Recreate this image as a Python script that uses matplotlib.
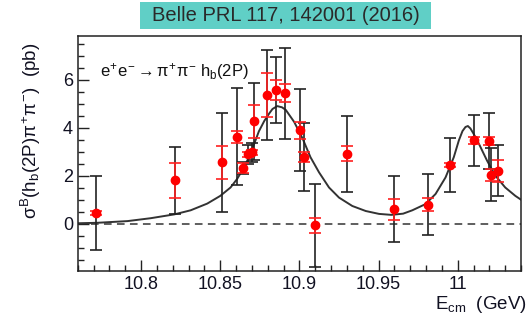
import numpy as np
import matplotlib
matplotlib.use('Agg')
import matplotlib.pyplot as plt
from matplotlib.patches import Rectangle
from matplotlib.ticker import MultipleLocator

plt.rcParams['font.family'] = ['Liberation Sans', 'DejaVu Sans']
plt.rcParams['mathtext.fontset'] = 'custom'
plt.rcParams['mathtext.rm'] = 'Liberation Sans'
plt.rcParams['mathtext.it'] = 'Liberation Sans'
plt.rcParams['mathtext.bf'] = 'Liberation Sans:bold'

e_cm = [10.7718, 10.8214, 10.8508, 10.8605, 10.8645, 10.8675, 10.8700, 10.8713,
        10.8798, 10.8855, 10.8912, 10.9003, 10.9030, 10.9100, 10.9300, 10.9600,
        10.9810, 10.9950, 11.0104, 11.0196, 11.0210, 11.0255]
sigma = [0.45, 1.81, 2.56, 3.63, 2.31, 2.89, 2.98, 4.27,
         5.37, 5.58, 5.44, 3.90, 2.77, -0.07, 2.91, 0.60,
         0.80, 2.45, 3.47, 3.45, 2.05, 2.21]
err_tot = [1.53, 1.39, 2.07, 2.02, 0.25, 0.40, 0.40, 1.60,
           1.88, 1.37, 1.90, 1.70, 1.42, 1.73, 1.58, 1.37,
           1.26, 1.12, 1.05, 1.15, 1.10, 1.07]
err_red = [0.10, 0.72, 0.69, 0.25, 0.20, 0.10, 0.10, 0.68,
           0.92, 0.41, 0.38, 0.35, 0.20, 0.32, 0.31, 0.45,
           0.28, 0.08, 0.15, 0.15, 0.25, 0.46]

# fit curve
fit_x = [10.760, 10.7725, 10.7914, 10.806, 10.821, 10.8313, 10.8418, 10.850,
         10.8565, 10.8607, 10.865, 10.869, 10.8744, 10.8778, 10.881, 10.883,
         10.886, 10.889, 10.8914, 10.8967, 10.902, 10.907, 10.9124, 10.9187,
         10.925, 10.9334, 10.9419, 10.9503, 10.958, 10.9655, 10.9713, 10.9797,
         10.986, 10.9923, 10.9975, 11.0007, 11.003, 11.0049, 11.0064, 11.008,
         11.010, 11.0133, 11.0185, 11.0238, 11.030, 11.0364, 11.040]
fit_y = [0.02, 0.04, 0.11, 0.23, 0.39, 0.56, 0.84, 1.16,
         1.51, 1.87, 2.35, 2.90, 3.85, 4.28, 4.60, 4.78,
         4.90, 4.85, 4.74, 4.24, 3.55, 2.77, 2.14, 1.51,
         1.09, 0.74, 0.53, 0.41, 0.37, 0.42, 0.56, 0.82,
         1.24, 1.93, 2.77, 3.47, 3.86, 4.03, 4.07, 3.97,
         3.75, 3.34, 2.63, 2.00, 1.51, 1.16, 1.00]

fig = plt.figure(figsize=(5.29, 3.2), dpi=100)
ax = fig.add_axes([0.147, 0.153, 0.838, 0.733])

ax.axhline(0, color='#333333', lw=1.1, ls=(0, (5, 3.5)), zorder=1)
ax.plot(fit_x, fit_y, color='#333333', lw=1.4, zorder=2)

ax.errorbar(e_cm, sigma, yerr=err_tot, fmt='none', ecolor='#222222',
            elinewidth=1.2, capsize=4, capthick=1.2, zorder=3)
ax.errorbar(e_cm, sigma, yerr=err_red, fmt='none', ecolor='#ff2020',
            elinewidth=1.2, capsize=4, capthick=1.2, zorder=4)
ax.plot(e_cm, sigma, 'o', color='#ff0000', ms=6, mec='#ff0000', zorder=5)

ax.set_xlim(10.76, 11.04)
ax.set_ylim(-1.97, 7.8)
ax.xaxis.set_major_locator(MultipleLocator(0.05))
ax.xaxis.set_minor_locator(MultipleLocator(0.01))
ax.yaxis.set_major_locator(MultipleLocator(2))
ax.yaxis.set_minor_locator(MultipleLocator(0.5))
ax.set_xticks([10.8, 10.85, 10.9, 10.95, 11.0])
ax.set_xticklabels(['10.8', '10.85', '10.9', '10.95', '11'])
ax.tick_params(which='both', direction='in', top=False, right=False,
               labelsize=13, width=1.0, colors='#222222', labelcolor='#111122')
ax.tick_params(which='major', length=8)
ax.tick_params(which='minor', length=4)
for s in ax.spines.values():
    s.set_linewidth(1.1)
    s.set_color('#222222')

ax.text(0.05, 0.83, r'$e^{+}e^{-}\rightarrow\pi^{+}\pi^{-}\ h_{b}(2P)$',
        transform=ax.transAxes, fontsize=12, color='#111111')

fig.text(0.058, 0.59, r'$\sigma^{B}(h_{b}(2P)\pi^{+}\pi^{-})$  (pb)',
         rotation=90, ha='center', va='center', fontsize=13.5, color='#111122')
fig.text(0.996, 0.035, r'$E_{cm}$  (GeV)', ha='right', va='baseline',
         fontsize=13.5, color='#111122')

fig.patches.append(Rectangle((0.2647, 0.9084), 0.550, 0.0863,
                             transform=fig.transFigure, facecolor='#60cfc6',
                             edgecolor='none', zorder=0))
fig.text(0.5397, 0.952, 'Belle PRL 117, 142001 (2016)', ha='center',
         va='center', fontsize=14.5, color='#2a2a2a')

fig.savefig('out.png', dpi=100)
